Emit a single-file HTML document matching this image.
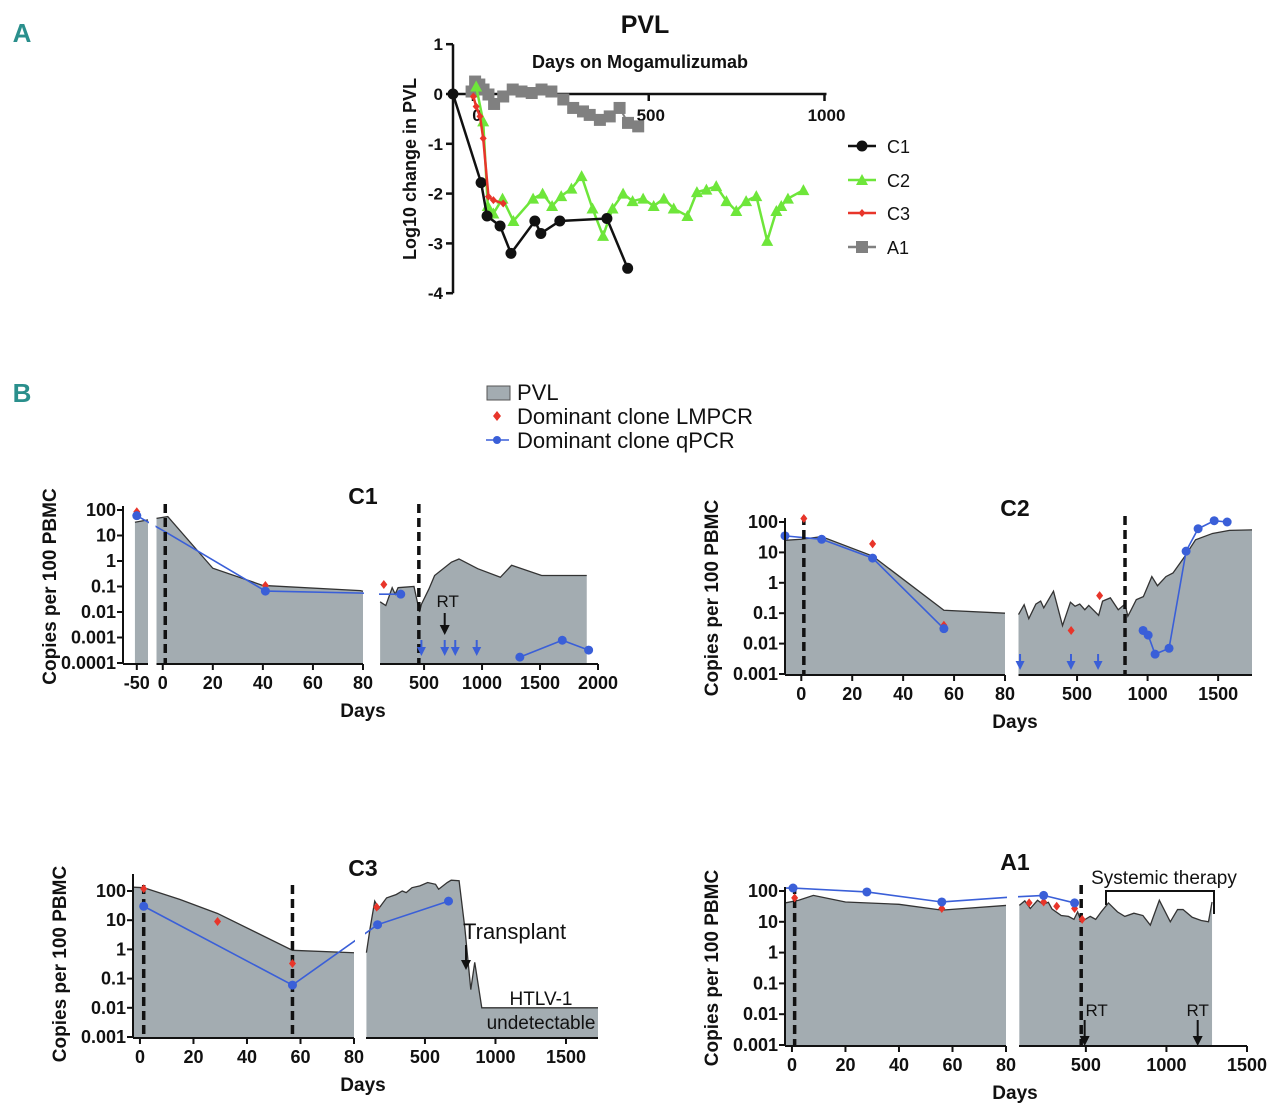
<!DOCTYPE html>
<html><head><meta charset="utf-8"><style>
html,body{margin:0;padding:0;background:#fff;}
svg{display:block;font-family:"Liberation Sans",Arial,sans-serif;}
</style></head><body>
<svg id="fig" width="1280" height="1109" viewBox="0 0 1280 1109"></svg>
<script>
// ===== Panel A data (days, log10 change) =====
const aC1Days = [-57,23,40,77,108,176,193,247,381,440];
const aC1Vals = [0,-1.78,-2.45,-2.65,-3.2,-2.55,-2.8,-2.55,-2.5,-3.5];
const aC2Days = [9,29,42,58,84,115,171,198,225,251,280,309,340,370,397,427,454,484,514,543,571,610,637,664,692,721,749,777,806,837,863,877,896,940];
const aC2Vals = [0.15,-0.55,-2.25,-2.4,-2.1,-2.55,-2.1,-2.0,-2.25,-2.05,-1.9,-1.65,-2.3,-2.85,-2.3,-2.0,-2.15,-2.1,-2.25,-2.1,-2.3,-2.45,-1.97,-1.92,-1.85,-2.15,-2.35,-2.15,-2.05,-2.95,-2.35,-2.25,-2.1,-1.93];
const aC3Days = [1,9,20,29,44,58,86];
const aC3Vals = [-0.05,-0.25,-0.45,-0.89,-2.06,-2.13,-2.2];
const aA1Days = [-4,6,18,30,44,60,86,113,138,167,195,223,257,285,313,332,361,389,417,441,470];
const aA1Vals = [0.05,0.25,0.19,0.09,-0.01,-0.2,-0.05,0.09,0.05,0.02,0.09,0.05,-0.11,-0.28,-0.35,-0.42,-0.52,-0.45,-0.28,-0.58,-0.65];
const aYTicks = [1,0,-1,-2,-3,-4];
const aXTicks = [0,500,1000];

// ===== Panel B data: [day, copies per 100 PBMC] =====
const c1Area = [[-51,33],[-44,41],[-2.5,47],[2,55],[20,0.52],[40,0.11],[79,0.069],[80,0.065],[121,0.025],[170,0.018],[225,0.09],[251,0.05],[276,0.09],[413,0.1],[461,0.01],[477,0.02],[542,0.08],[591,0.27],[736,0.9],[801,1.2],[963,0.5],[1158,0.23],[1255,0.68],[1514,0.27],[1903,0.27]];
const c1Blue = [[[-50,60],[1,14],[41,0.066],[80,0.055],[121,0.05],[299,0.05]],[[1326,0.00017],[1692,0.00078],[1919,0.00032]]];
const c1BlueDots = [[-50,60],[41,0.066],[299,0.05],[1326,0.00017],[1692,0.00078],[1919,0.00032]];
const c1Red = [[-50,85],[41,0.11],[153,0.12]];
const c1Arrows = [477,678,769,954];
const c1Dashed = [1,455];

const c2Area = [[-6.4,25],[0,27],[8,33],[28,7.6],[56,0.125],[80,0.1],[85,0.09],[125,0.19],[158,0.066],[208,0.2],[242,0.25],[264,0.15],[333,0.53],[397,0.039],[453,0.23],[486,0.17],[519,0.2],[555,0.13],[583,0.18],[653,0.085],[681,0.25],[736,0.32],[792,0.13],[840,0.2],[860,0.08],[880,0.12],[920,0.28],[970,0.35],[1030,1.6],[1070,0.8],[1130,1.6],[1180,2.1],[1260,7],[1340,26],[1460,42],[1580,53],[1740,55]];
const c2Blue = [[[-6.4,35],[8,27],[28,6.5],[56,0.031]],[[968,0.027],[1004,0.019],[1053,0.0045],[1152,0.007],[1273,11],[1358,60],[1472,110],[1564,100]]];
const c2BlueDots = [[-6.4,35],[8,27],[28,6.5],[56,0.031],[968,0.027],[1004,0.019],[1053,0.0045],[1152,0.007],[1273,11],[1358,60],[1472,110],[1564,100]];
const c2Red = [[1,130],[28,19],[56,0.04],[458,0.027],[660,0.38]];
const c2Arrows = [96,457,649];
const c2Dashed = [1,840];

const c3Area = [[-2.6,135],[1.4,130],[15,51],[29,17],[57,0.93],[80,0.77],[85,0.77],[111,5.3],[144,45],[172,25],[228,58],[297,76],[339,100],[367,88],[408,130],[464,150],[519,195],[575,170],[597,115],[658,195],[686,235],[742,225],[783,5.3],[825,0.042],[853,0.36],[903,0.01],[1727,0.01]];
const c3Blue = [[[1.4,30],[57,0.06],[164,7],[667,45]]];
const c3BlueDots = [[1.4,30],[57,0.06],[164,7],[667,45]];
const c3Red = [[1.4,120],[29,9],[57,0.33],[158,28]];
const c3Arrows = [];
const c3Dashed = [1.4,57];

const a1Area = [[-2.6,41],[2.5,50],[8,72],[20,44],[40,37],[56,24],[80,34],[87,34],[121,48],[155,27],[200,50],[234,37],[267,43],[290,26],[347,16],[392,15],[426,12],[449,21],[471,10],[527,15],[561,12],[595,21],[640,41],[696,21],[742,15],[798,19],[854,16],[900,7.8],[956,50],[1024,10],[1069,25],[1103,25],[1160,14],[1216,11],[1261,10],[1283,44]];
const a1Blue = [[[-2.6,125],[0.4,125],[28,93],[56,44],[80,62],[100,66],[238,72],[430,41]]];
const a1BlueDots = [[0.4,125],[28,93],[56,44],[238,72],[430,41]];
const a1Red = [[1,60],[56,27],[148,41],[238,44],[319,32],[430,27],[477,12]];
const a1Arrows = [];
const a1Dashed = [1,471];

const yTickLabelsC1 = ["100","10","1","0.1","0.01","0.001","0.0001"];
const yTickLabelsOther = ["100","10","1","0.1","0.01","0.001"];

const NS = "http://www.w3.org/2000/svg";
const svg = document.getElementById('fig');
function mk(tag, attrs, parent){
  const e = document.createElementNS(NS, tag);
  for (const k in attrs) e.setAttribute(k, attrs[k]);
  (parent||svg).appendChild(e);
  return e;
}
function txt(x,y,s,size,opts,parent){
  opts = opts||{};
  const e = mk('text',{x:x,y:y,'font-size':size,'font-weight':opts.w||'bold','text-anchor':opts.a||'middle',fill:opts.fill||'#111'},parent);
  if (opts.rot) e.setAttribute('transform','rotate(-90 '+x+' '+y+')');
  e.textContent = s;
  return e;
}

let t;
t = txt(22,42,'A',26,{fill:'#2a8f8c',a:'middle'});


t = txt(22,402,'B',26,{fill:'#2a8f8c',a:'middle'});



// ===== Panel A =====
(function(){
  const g = mk('g',{});
  
  
  const ax = 453, x0 = 473, pxPerDay = 0.3515, y0 = 94, pxPerUnit = 49.8;
  const X = d => x0 + d*pxPerDay;
  const Y = v => y0 - v*pxPerUnit;
  let e;
  e = txt(645,33,'PVL',25,{},g);
  
  
  e = txt(640,68,'Days on Mogamulizumab',18,{},g);
  
  
  e = txt(416,169,'Log10 change in PVL',18,{rot:true},g);
  
  
  e = mk('line',{x1:ax,y1:Y(1),x2:ax,y2:Y(-4),stroke:'#111','stroke-width':2.5},g);
  
  
  aYTicks.forEach(v=>{
    const tk = mk('line',{x1:ax-7,y1:Y(v),x2:ax,y2:Y(v),stroke:'#111','stroke-width':2.5},g);
    
    
    const lb = txt(443,Y(v)+6,String(v),17,{a:'end'},g);
    
    
  });
  e = mk('line',{x1:ax,y1:y0,x2:X(1000)+2,y2:y0,stroke:'#111','stroke-width':2.5},g);
  
  
  aXTicks.forEach(d=>{
    const tk = mk('line',{x1:X(d),y1:y0,x2:X(d),y2:y0+7,stroke:'#111','stroke-width':2.5},g);
    
    
    const lb = txt(X(d)+(d?2:4),y0+27,String(d),17,{},g);
    
    
  });
  function marker(type,x,y,color,parent){
    let m;
    if (type==='circle') m = mk('circle',{cx:x,cy:y,r:5.5,fill:color},parent);
    else if (type==='tri') m = mk('polygon',{points:(x)+','+(y-6)+' '+(x-6)+','+(y+5)+' '+(x+6)+','+(y+5),fill:color},parent);
    else if (type==='diamond') m = mk('polygon',{points:x+','+(y-4)+' '+(x+3.5)+','+y+' '+x+','+(y+4)+' '+(x-3.5)+','+y,fill:color},parent);
    else m = mk('rect',{x:x-6,y:y-6,width:12,height:12,fill:color},parent);
    return m;
  }
  const series = [
    {name:'A1',days:aA1Days,vals:aA1Vals,color:'#808080',m:'square',w:2},
    {name:'C2',days:aC2Days,vals:aC2Vals,color:'#6ee63a',m:'tri',w:2.5},
    {name:'C1',days:aC1Days,vals:aC1Vals,color:'#111111',m:'circle',w:2.5},
    {name:'C3',days:aC3Days,vals:aC3Vals,color:'#e8352a',m:'diamond',w:2.5}
  ];
  series.forEach(s=>{
    const sg = mk('g',{},g);
    
    
    const pts = s.days.map((d,i)=>X(d)+','+Y(s.vals[i])).join(' ');
    const pl = mk('polyline',{points:pts,fill:'none',stroke:s.color,'stroke-width':s.w},sg);
    
    
    s.days.forEach((d,i)=>{
      const m = marker(s.m,X(d),Y(s.vals[i]),s.color,sg);
      
      
    });
  });
  const legend = [['C1','#111111','circle',146],['C2','#6ee63a','tri',180],['C3','#e8352a','diamond',213],['A1','#808080','square',247]];
  legend.forEach(l=>{
    const lg = mk('g',{},g);
    
    
    mk('line',{x1:848,y1:l[3],x2:876,y2:l[3],stroke:l[1],'stroke-width':2.5},lg);
    marker(l[2],862,l[3],l[1],lg);
    txt(887,l[3]+7,l[0],18,{a:'start',w:'normal'},lg);
  });
})();

// ===== Panel B legend =====
(function(){
  const g = mk('g',{});
  
  
  let e;
  e = mk('rect',{x:487,y:386,width:23,height:14,fill:'#a3acb1',stroke:'#555','stroke-width':1},g);
  
  
  e = txt(517,400,'PVL',22,{a:'start',w:'normal'},g);
  
  
  e = mk('polygon',{points:'497,411 501,416 497,421 493,416',fill:'#e8352a'},g);
  
  
  e = txt(517,424,'Dominant clone LMPCR',22,{a:'start',w:'normal'},g);
  
  
  e = mk('line',{x1:486,y1:440,x2:509,y2:440,stroke:'#3a5fd8','stroke-width':1.5},g);
  
  
  e = mk('circle',{cx:497,cy:440,r:4,fill:'#3a5fd8'},g);
  
  
  e = txt(517,448,'Dominant clone qPCR',22,{a:'start',w:'normal'},g);
  
  
})();

function panel(cfg){
  const g = mk('g',{});
  
  
  const Y = v => cfg.yTop + (cfg.topLog - Math.log10(v))*(cfg.yBot-cfg.yTop)/(cfg.topLog-cfg.botLog);
  const segOf = d => cfg.segs.find(s=>d>=s.d0-1e-9 && d<=s.d1+1e-9);
  const X = d => { const s = segOf(d); if(!s) return null; return s.p0 + (d-s.d0)*(s.p1-s.p0)/(s.d1-s.d0); };
  let e;
  cfg.segs.forEach((s,si)=>{
    const pts = cfg.area.filter(p=>p[0]>=s.d0-1e-9 && p[0]<=s.d1+1e-9);
    if (pts.length<2) return;
    const top = pts.map(p=>X(p[0])+','+Y(p[1])).join(' ');
    const x0 = X(pts[0][0]), x1 = X(pts[pts.length-1][0]);
    const poly = mk('polygon',{points:x0+','+cfg.yBot+' '+top+' '+x1+','+cfg.yBot,fill:'#a3acb1',stroke:'none'},g);
    
    
    const ln = mk('polyline',{points:top,fill:'none',stroke:'#333','stroke-width':1.3},g);
    
    
  });
  cfg.blue.forEach(piece=>{
    const pts = piece.filter(p=>X(p[0])!==null).map(p=>X(p[0])+','+Y(p[1])).join(' ');
    const ln = mk('polyline',{points:pts,fill:'none',stroke:'#3a5fd8','stroke-width':1.6},g);
    
    
  });
  for (let i=0;i<cfg.segs.length-1;i++){
    const a = cfg.segs[i].p1, b = cfg.segs[i+1].p0;
    const r = mk('rect',{x:a+1,y:cfg.yTop-20,width:Math.max(b-a-2,1),height:cfg.yBot-cfg.yTop+40,fill:'#fff'},g);
    
    
  }
  cfg.dashed.forEach(d=>{
    const l = mk('line',{x1:X(d),y1:cfg.yTop-6,x2:X(d),y2:cfg.yBot,stroke:'#111','stroke-width':3.5,'stroke-dasharray':'9,5'},g);
    
    
  });
  cfg.red.forEach(p=>{
    const x = X(p[0]), y = Y(p[1]);
    const m = mk('polygon',{points:x+','+(y-4.5)+' '+(x+3.5)+','+y+' '+x+','+(y+4.5)+' '+(x-3.5)+','+y,fill:'#e8352a'},g);
    
    
  });
  cfg.blueDots.forEach(p=>{
    const c = mk('circle',{cx:X(p[0]),cy:Y(p[1]),r:4.5,fill:'#3a5fd8'},g);
    
    
  });
  cfg.arrows.forEach(d=>{
    const x = X(d), y = cfg.arrowY;
    const ag = mk('g',{},g);
    
    
    mk('line',{x1:x,y1:y-12,x2:x,y2:y,stroke:'#3a5fd8','stroke-width':2},ag);
    mk('polygon',{points:(x-4.5)+','+(y-5)+' '+(x+4.5)+','+(y-5)+' '+x+','+(y+4),fill:'#3a5fd8'},ag);
  });
  e = mk('line',{x1:cfg.axisX,y1:cfg.axisTop||cfg.yTop-4,x2:cfg.axisX,y2:cfg.yBot+1,stroke:'#111','stroke-width':2},g);
  
  
  cfg.yLabels.forEach((lab,i)=>{
    const y = Y(Math.pow(10,cfg.topLog-i));
    const tk = mk('line',{x1:cfg.axisX-6,y1:y,x2:cfg.axisX,y2:y,stroke:'#111','stroke-width':2},g);
    
    
    const lb = txt(cfg.axisX-7,y+6,lab,18,{a:'end'},g);
    
    
  });
  cfg.segs.forEach((s,si)=>{
    const xa = si===0 ? cfg.axisX : s.p0;
    const l = mk('line',{x1:xa,y1:cfg.yBot+1,x2:s.p1,y2:cfg.yBot+1,stroke:'#111','stroke-width':2},g);
    
    
    cfg.xTicks[si].forEach(d=>{
      const x = X(d);
      const tk = mk('line',{x1:x,y1:cfg.yBot+1,x2:x,y2:cfg.yBot+7,stroke:'#111','stroke-width':2},g);
      
      
      const lb = txt(x,cfg.yBot+26,String(d),18,{},g);
      
      
    });
  });
  e = txt(cfg.cx,cfg.titleY,cfg.title,23,{},g);
  
  
  e = txt(cfg.cx,cfg.yBot+54,'Days',19,{},g);
  
  
  e = txt(cfg.ylabX,(cfg.yTop+cfg.yBot)/2,'Copies per 100 PBMC',19,{rot:true},g);
  
  
  return {g:g,X:X,Y:Y};
}

function arrowDown(g,x,y1,y2,name){
  const a = mk('g',{},g);
  
  
  mk('line',{x1:x,y1:y1,x2:x,y2:y2-6,stroke:'#111','stroke-width':2},a);
  mk('polygon',{points:(x-5)+','+(y2-9)+' '+(x+5)+','+(y2-9)+' '+x+','+(y2+1),fill:'#111'},a);
}

// C1
(function(){
  const p = panel({id:'c1',title:'C1',cx:363,titleY:504,ylabX:56,axisX:123,yTop:510,yBot:663,topLog:2,botLog:-4,
    segs:[{d0:-51.5,d1:-44,p0:134,p1:148},{d0:-2.5,d1:80,p0:156.5,p1:363},{d0:120,d1:2000,p0:380,p1:598}],
    xTicks:[[-50],[0,20,40,60,80],[500,1000,1500,2000]],
    area:c1Area,blue:c1Blue,blueDots:c1BlueDots,red:c1Red,arrows:c1Arrows,arrowY:652,dashed:c1Dashed,yLabels:yTickLabelsC1});
  const x = p.X(678);
  let e = txt(x+3,607,'RT',17,{w:'normal'},p.g);
  
  
  arrowDown(p.g,x,613,634,'rt-arrow');
})();
// C2
(function(){
  panel({id:'c2',title:'C2',cx:1015,titleY:516,ylabX:718,axisX:785,yTop:522,yBot:674,topLog:2,botLog:-3,
    segs:[{d0:-6.4,d1:80,p0:785,p1:1005},{d0:85,d1:1740,p0:1018.5,p1:1252}],
    xTicks:[[0,20,40,60,80],[500,1000,1500]],
    area:c2Area,blue:c2Blue,blueDots:c2BlueDots,red:c2Red,arrows:c2Arrows,arrowY:666,dashed:c2Dashed,yLabels:yTickLabelsOther});
})();
// C3
(function(){
  const p = panel({id:'c3',title:'C3',cx:363,titleY:876,ylabX:66,axisX:133,axisTop:874,yTop:891,yBot:1037,topLog:2,botLog:-3,
    segs:[{d0:-2.6,d1:80,p0:133,p1:354},{d0:82,d1:1727,p0:366,p1:598}],
    xTicks:[[0,20,40,60,80],[500,1000,1500]],
    area:c3Area,blue:c3Blue,blueDots:c3BlueDots,red:c3Red,arrows:c3Arrows,arrowY:1030,dashed:c3Dashed,yLabels:yTickLabelsOther});
  let e = txt(463,939,'Transplant',22,{a:'start',w:'normal'},p.g);
  
  
  arrowDown(p.g,466,945,969,'transplant-arrow');
  e = txt(541,1005,'HTLV-1',19,{w:'normal'},p.g);
  
  
  e = txt(541,1029,'undetectable',19,{w:'normal'},p.g);
  
  
})();
// A1
(function(){
  const p = panel({id:'a1',title:'A1',cx:1015,titleY:870,ylabX:718,axisX:785,yTop:891,yBot:1045,topLog:2,botLog:-3,
    segs:[{d0:-2.6,d1:80,p0:785,p1:1006},{d0:85,d1:1500,p0:1019,p1:1247}],
    xTicks:[[0,20,40,60,80],[500,1000,1500]],
    area:a1Area,blue:a1Blue,blueDots:a1BlueDots,red:a1Red,arrows:a1Arrows,arrowY:1040,dashed:a1Dashed,yLabels:yTickLabelsOther});
  let x = p.X(480);
  let e = txt(x+14,1016,'RT',17,{w:'normal'},p.g);
  
  
  arrowDown(p.g,x+2,1020,1045,'rt-arrow');
  x = p.X(1194);
  e = txt(x,1016,'RT',17,{w:'normal'},p.g);
  
  
  arrowDown(p.g,x,1020,1045,'rt-arrow');
  const br = mk('polyline',{points:'1106,905 1106,891 1214,891 1214,914',fill:'none',stroke:'#111','stroke-width':2},p.g);
  
  
  e = txt(1164,884,'Systemic therapy',19,{w:'normal'},p.g);
  
  
})();
</script>
</body></html>
